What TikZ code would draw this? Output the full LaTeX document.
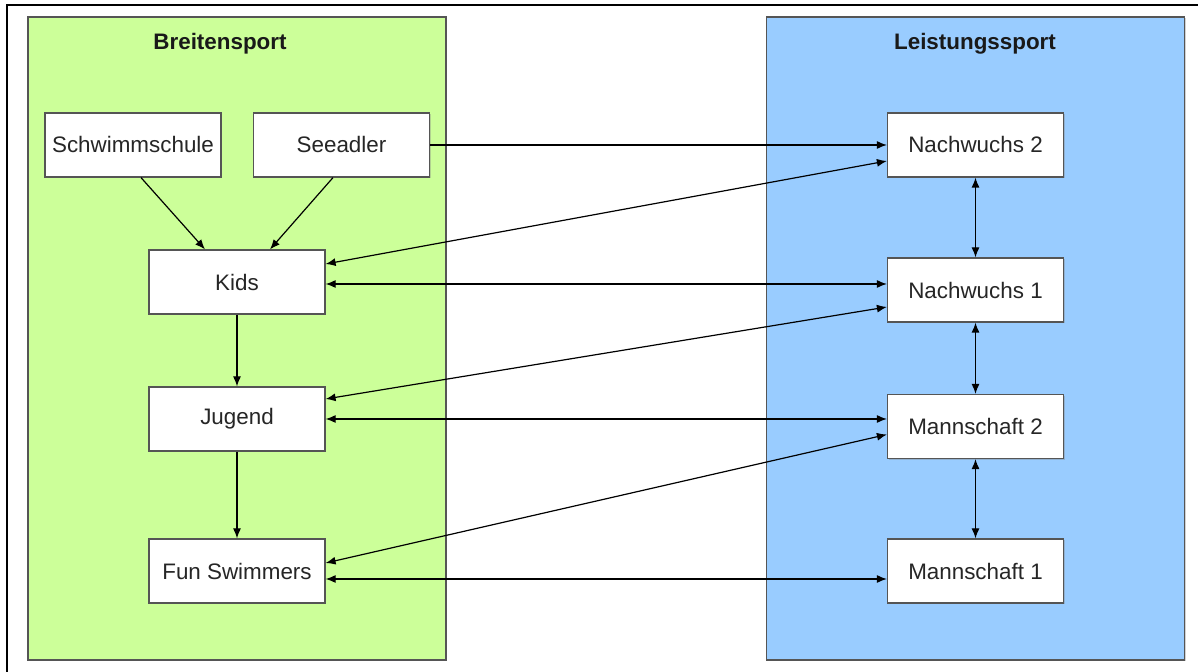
\documentclass[tikz,border=0pt]{standalone}
\usepackage{fontspec}
\setmainfont{Liberation Sans}
\usetikzlibrary{calc,arrows.meta,shadows}
\definecolor{greenbg}{HTML}{CCFF99}
\definecolor{bluebg}{HTML}{99CCFF}
\definecolor{edgegray}{HTML}{555555}
\begin{document}
\begin{tikzpicture}[x=0.5pt,y=-0.5pt,
  panel/.style={draw=edgegray,line width=0.6pt,minimum width=209pt,minimum height=321.5pt,inner sep=0pt,drop shadow={shadow xshift=0.6pt,shadow yshift=-0.6pt,opacity=0.35}},
  box/.style={draw=edgegray,fill=white,line width=0.6pt,minimum width=88pt,minimum height=32pt,inner sep=0pt,font=\fontsize{11.2pt}{13pt}\selectfont,text=black!85,drop shadow={shadow xshift=0.6pt,shadow yshift=-0.6pt,opacity=0.35}},
  ttl/.style={font=\fontsize{11.2pt}{13pt}\selectfont\bfseries,text=black!90},
  conn/.style={line width=0.6pt,-{Latex[length=5pt,width=4pt]}},
  bconn/.style={line width=0.6pt,{Latex[length=5pt,width=4pt]}-{Latex[length=5pt,width=4pt]}}]
\useasboundingbox (0,0) rectangle (1198,672);
\fill[white] (0,0) rectangle (1198,672);
\draw[line width=1pt] (7,672) -- (7,5) -- (1198,5);
% panels
\node[panel,fill=greenbg] (gp) at (237,338.5) {};
\node[panel,fill=bluebg] (bp) at (975.5,338.5) {};
\node[ttl] (t1) at (220,44) {Breitensport};
\node[ttl] (t2) at (975,44) {Leistungssport};
% boxes
\node[box] (schw) at (133,145) {Schwimmschule};
\node[box] (see) at (341.5,145) {Seeadler};
\node[box] (kids) at (237,282) {Kids};
\node[box] (jug) at (237,419) {Jugend};
\node[box] (fun) at (237,571) {Fun Swimmers};
\node[box] (n2) at (975.5,145) {Nachwuchs 2};
\node[box] (n1) at (975.5,290) {Nachwuchs 1};
\node[box] (m2) at (975.5,426.5) {Mannschaft 2};
\node[box] (m1) at (975.5,571) {Mannschaft 1};
% helper coordinates
\coordinate (ka) at ($(kids.east)+(0,2)$);
\coordinate (fa) at ($(fun.east)+(0,8)$);
% left internal
\draw[conn] ($(schw.south)+(8,0)$) -- ($(kids.north)+(-32,0)$);
\draw[conn] ($(see.south)+(-8.5,0)$) -- ($(kids.north)+(33,0)$);
\draw[conn] (kids.south) -- (jug.north);
\draw[conn] (jug.south) -- (fun.north);
% right internal
\draw[bconn] (n2.south) -- (n1.north);
\draw[bconn] (n1.south) -- (m2.north);
\draw[bconn] (m2.south) -- (m1.north);
% cross
\draw[conn] (see.east) -- (see.east -| n2.west);
\draw[bconn] ($(n2.west)+(0,16)$) -- ($(kids.east)+(0,-18)$);
\draw[bconn] (ka) -- (ka -| n1.west);
\draw[bconn] ($(n1.west)+(0,17)$) -- ($(jug.east)+(0,-20)$);
\draw[bconn] (jug.east) -- (jug.east -| m2.west);
\draw[bconn] ($(m2.west)+(0,8)$) -- ($(fun.east)+(0,-8)$);
\draw[bconn] (fa) -- (fa -| m1.west);
\end{tikzpicture}
\end{document}
